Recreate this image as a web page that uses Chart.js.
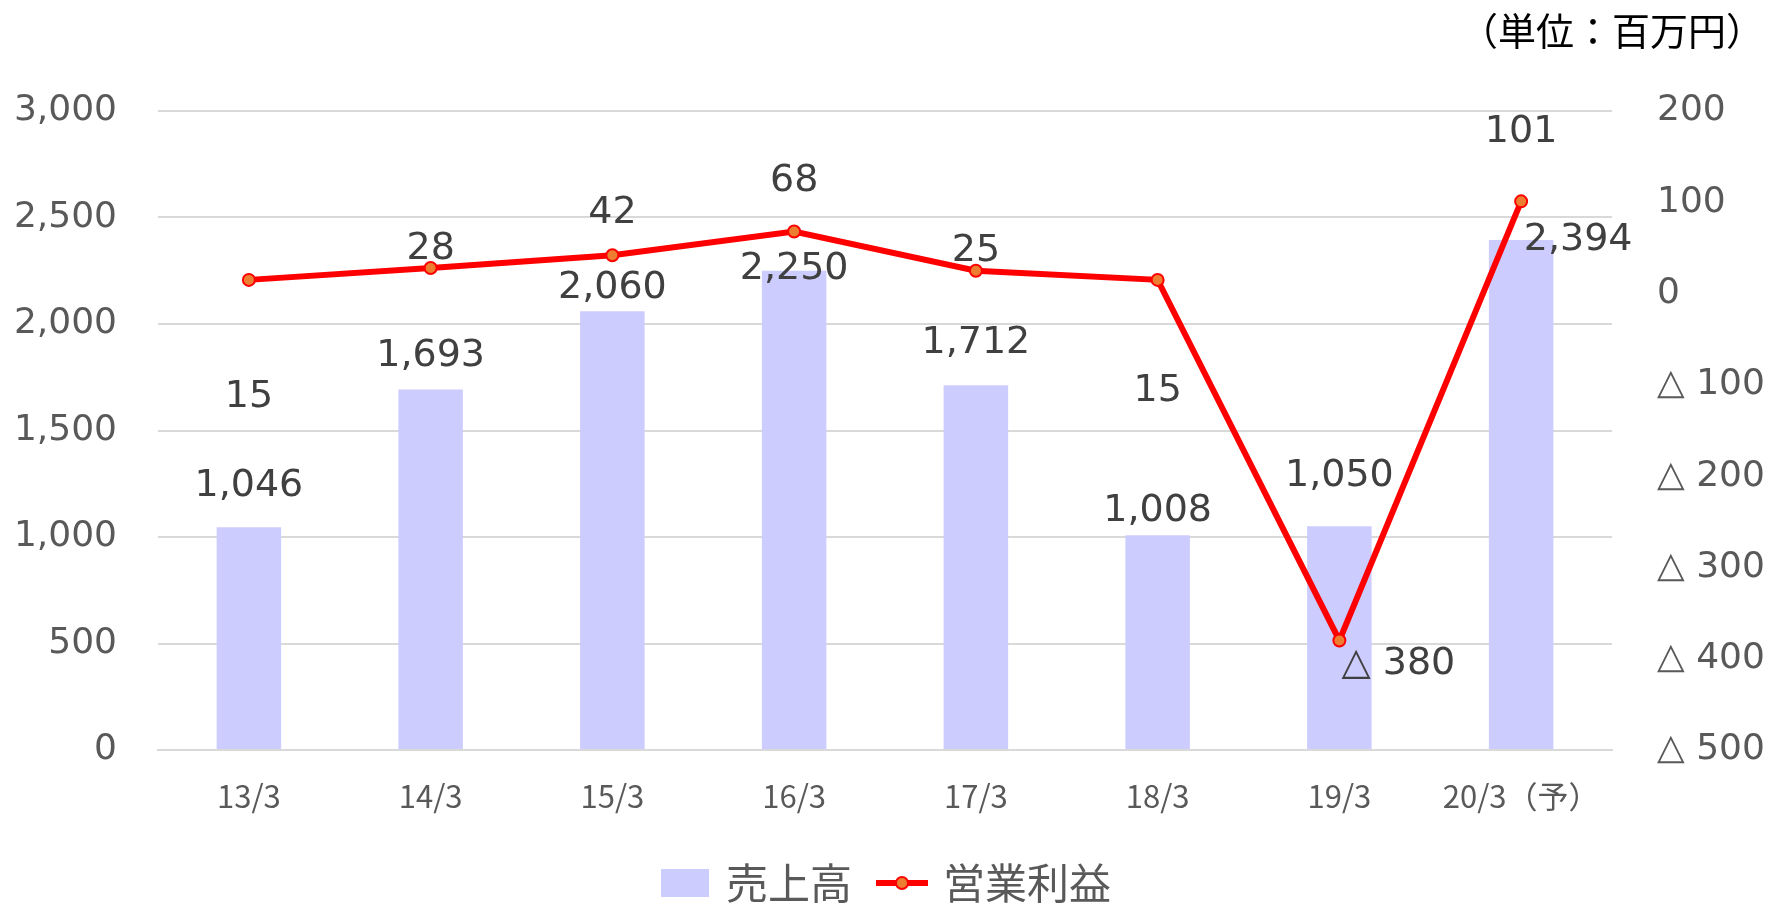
<!DOCTYPE html>
<html lang="ja">
<head>
<meta charset="utf-8">
<title>売上高・営業利益</title>
<script src="https://cdn.jsdelivr.net/npm/chart.js@4.4.1/dist/chart.umd.min.js"></script>
<style>
  html, body { margin: 0; padding: 0; background: #fff; }
</style>
</head>
<body>
<canvas id="chart" width="1776" height="904"></canvas>
<script>
// --- data ---
const periods = ['13/3', '14/3', '15/3', '16/3', '17/3', '18/3', '19/3', '20/3（予）'];
const sales = [1046, 1693, 2060, 2250, 1712, 1008, 1050, 2394];
const operatingProfit = [15, 28, 42, 68, 25, 15, -380, 101];
const salesTicks = [0, 500, 1000, 1500, 2000, 2500, 3000];
const profitTicks = [-500, -400, -300, -200, -100, 0, 100, 200];
const unitLabel = '（単位：百万円）';

// label offsets (px) from each bar top / point, as Excel placed them
const salesLabelOffsets = [[0, -41], [0, -33], [0, -23], [0, -2], [0, -42], [0, -24], [0, -50], [57, 0]];
const profitLabelOffsets = [[0, 117], [0, -19], [0, -42], [0, -50], [0, -20], [0, 111], [59, 24], [0, -69]];

const NUM_FONT = "'DejaVu Sans', Verdana, sans-serif";
const JP_FONT = "'Noto Sans CJK JP', sans-serif";
const BAR_COLOR = '#CCCCFF';
const LINE_COLOR = '#FF0000';
const POINT_COLOR = '#ED7D31';

const fmtNum = v => v < 0 ? '△ ' + Math.abs(v).toLocaleString('en-US') : v.toLocaleString('en-US');

// legend swatches
function makeBarSwatch() {
  const c = document.createElement('canvas');
  c.width = 48; c.height = 28;
  const g = c.getContext('2d');
  g.fillStyle = BAR_COLOR;
  g.fillRect(0, 0, 48, 28);
  return c;
}
function makeLineSwatch() {
  const c = document.createElement('canvas');
  c.width = 52; c.height = 18;
  const g = c.getContext('2d');
  g.strokeStyle = LINE_COLOR;
  g.lineWidth = 6;
  g.beginPath(); g.moveTo(0, 9); g.lineTo(52, 9); g.stroke();
  g.beginPath(); g.arc(26, 9, 6, 0, Math.PI * 2);
  g.fillStyle = POINT_COLOR; g.fill();
  g.lineWidth = 2; g.stroke();
  return c;
}
const barSwatch = makeBarSwatch();
const lineSwatch = makeLineSwatch();

// data labels drawn at custom offsets
const valueLabels = {
  id: 'valueLabels',
  afterDatasetsDraw(chart) {
    const ctx = chart.ctx;
    ctx.save();
    ctx.font = '38px ' + NUM_FONT;
    ctx.fillStyle = '#404040';
    ctx.textAlign = 'center';
    ctx.textBaseline = 'middle';
    chart.data.datasets.forEach((ds, di) => {
      const meta = chart.getDatasetMeta(di);
      const offsets = ds.type === 'line' ? profitLabelOffsets : salesLabelOffsets;
      meta.data.forEach((el, i) => {
        const [dx, dy] = offsets[i];
        ctx.fillText(fmtNum(ds.data[i]), el.x + dx, el.y + dy);
      });
    });
    ctx.restore();
  }
};

// unit note top right
const unitNote = {
  id: 'unitNote',
  afterDraw(chart) {
    const ctx = chart.ctx;
    ctx.save();
    ctx.font = '38px ' + JP_FONT;
    ctx.fillStyle = '#000000';
    ctx.textAlign = 'right';
    ctx.textBaseline = 'middle';
    ctx.fillText(unitLabel, 1764, 31);
    ctx.restore();
  }
};

new Chart(document.getElementById('chart'), {
  type: 'bar',
  data: {
    labels: periods,
    datasets: [
      {
        label: '売上高',
        data: sales,
        backgroundColor: BAR_COLOR,
        barPercentage: 0.355,
        categoryPercentage: 1,
        yAxisID: 'y',
        order: 1
      },
      {
        type: 'line',
        label: '営業利益',
        data: operatingProfit,
        borderColor: LINE_COLOR,
        borderWidth: 6,
        tension: 0,
        pointRadius: 6,
        pointBorderWidth: 2,
        pointBackgroundColor: POINT_COLOR,
        pointBorderColor: LINE_COLOR,
        yAxisID: 'y1',
        order: 0
      }
    ]
  },
  options: {
    responsive: false,
    animation: false,
    devicePixelRatio: 1,
    layout: { padding: { top: 111, right: 0, bottom: -10, left: 0 } },
    plugins: {
      tooltip: { enabled: false },
      legend: {
        position: 'bottom',
        labels: {
          usePointStyle: true,
          pointStyleWidth: 40,
          padding: 30,
          color: '#595959',
          font: { family: JP_FONT, size: 42 },
          generateLabels(chart) {
            const items = Chart.defaults.plugins.legend.labels.generateLabels(chart);
            items.sort((a, b) => a.datasetIndex - b.datasetIndex);
            items.forEach(it => { it.pointStyle = it.datasetIndex === 0 ? barSwatch : lineSwatch; });
            return items;
          }
        }
      }
    },
    scales: {
      x: {
        grid: { display: false, drawTicks: false },
        border: { display: true, color: '#D9D9D9', width: 2 },
        ticks: { color: '#595959', font: { family: JP_FONT, size: 31 }, padding: 28, maxRotation: 0 },
        afterFit(scale) { scale.height = 82; }
      },
      y: {
        position: 'left',
        min: 0,
        max: 3000,
        afterBuildTicks(scale) { scale.ticks = salesTicks.map(v => ({ value: v })); },
        grid: { color: '#D9D9D9', lineWidth: 2, drawTicks: false },
        border: { display: false },
        ticks: { color: '#595959', font: { family: NUM_FONT, size: 36 }, padding: 41, callback: v => fmtNum(v) },
        afterFit(scale) { scale.width = 158; }
      },
      y1: {
        position: 'right',
        min: -500,
        max: 200,
        afterBuildTicks(scale) { scale.ticks = profitTicks.map(v => ({ value: v })); },
        grid: { display: false, drawTicks: false },
        border: { display: false },
        ticks: { color: '#595959', font: { family: NUM_FONT, size: 36 }, padding: 45, callback: v => fmtNum(v) },
        afterFit(scale) { scale.width = 164; }
      }
    }
  },
  plugins: [valueLabels, unitNote]
});
</script>
</body>
</html>
